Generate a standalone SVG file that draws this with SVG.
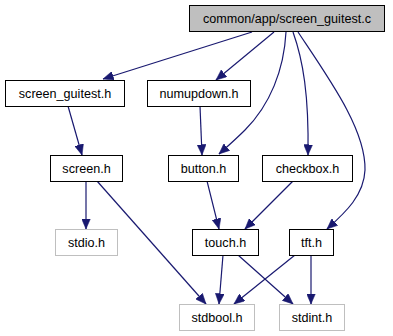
<svg xmlns="http://www.w3.org/2000/svg" width="393" height="336" viewBox="0 0 393 336">
  <style>
    .node rect { fill: #ffffff; stroke: #000000; stroke-width: 1; }
    .node.root rect { fill: #bfbfbf; }
    .node.sys rect { stroke: #bfbfbf; }
    .node text { font-family: "Liberation Sans", Arial, sans-serif; font-size: 12.6px; fill: #000000; text-anchor: middle; }
    .edges path { fill: none; stroke: #191970; stroke-width: 1.2; marker-end: url(#arrow); }
  </style>
  <defs>
    <marker id="arrow" markerUnits="userSpaceOnUse" markerWidth="11" markerHeight="9" refX="10.5" refY="4.5" orient="auto">
      <path d="M0,0 L10.5,4.5 L0,9 Z" fill="#191970" stroke="#191970" stroke-width="0.5"/>
    </marker>
  </defs>
  <rect width="393" height="336" fill="#ffffff"/>

  <g class="edges">
    <path d="M252,32 L103,79"/>
    <path d="M274,32 L216,80"/>
    <path d="M286,32 C284,70 270,105 245,130 C236,139 228,146 219,154"/>
    <path d="M293,32 C303,60 309,95 308,155"/>
    <path d="M298,32 C330,80 366,130 365,170 C364,195 346,212 327,229"/>
    <path d="M68,106 L82,155"/>
    <path d="M200,106 L202,155"/>
    <path d="M86,181 L86,229"/>
    <path d="M97,181 L206,304"/>
    <path d="M207,181 L219,229"/>
    <path d="M293,181 L245,229"/>
    <path d="M223,255 L219,304"/>
    <path d="M238,255 L293,304"/>
    <path d="M295,255 L234,304"/>
    <path d="M311,255 L311,304"/>
  </g>

  <g id="node-screen_guitest_c" class="node root">
    <rect x="189.5" y="5.5" width="195" height="26"/>
    <text x="287" y="23">common/app/screen_guitest.c</text>
  </g>
  <g id="node-screen_guitest_h" class="node">
    <rect x="5.5" y="80.5" width="119" height="26"/>
    <text x="65" y="98">screen_guitest.h</text>
  </g>
  <g id="node-numupdown_h" class="node">
    <rect x="147.5" y="80.5" width="103" height="26"/>
    <text x="199" y="98">numupdown.h</text>
  </g>
  <g id="node-screen_h" class="node">
    <rect x="50.5" y="155.5" width="72" height="26"/>
    <text x="86.5" y="173">screen.h</text>
  </g>
  <g id="node-button_h" class="node">
    <rect x="168.5" y="155.5" width="70" height="26"/>
    <text x="203.5" y="173">button.h</text>
  </g>
  <g id="node-checkbox_h" class="node">
    <rect x="262.5" y="155.5" width="90" height="26"/>
    <text x="307.5" y="173">checkbox.h</text>
  </g>
  <g id="node-stdio_h" class="node sys">
    <rect x="55.5" y="229.5" width="62" height="26"/>
    <text x="86.5" y="247">stdio.h</text>
  </g>
  <g id="node-touch_h" class="node">
    <rect x="192.5" y="229.5" width="66" height="26"/>
    <text x="225.5" y="247">touch.h</text>
  </g>
  <g id="node-tft_h" class="node">
    <rect x="289.5" y="229.5" width="44" height="26"/>
    <text x="311.5" y="247">tft.h</text>
  </g>
  <g id="node-stdbool_h" class="node sys">
    <rect x="179.5" y="304.5" width="75" height="26"/>
    <text x="217" y="322">stdbool.h</text>
  </g>
  <g id="node-stdint_h" class="node sys">
    <rect x="279.5" y="304.5" width="65" height="26"/>
    <text x="312" y="322">stdint.h</text>
  </g>
</svg>
